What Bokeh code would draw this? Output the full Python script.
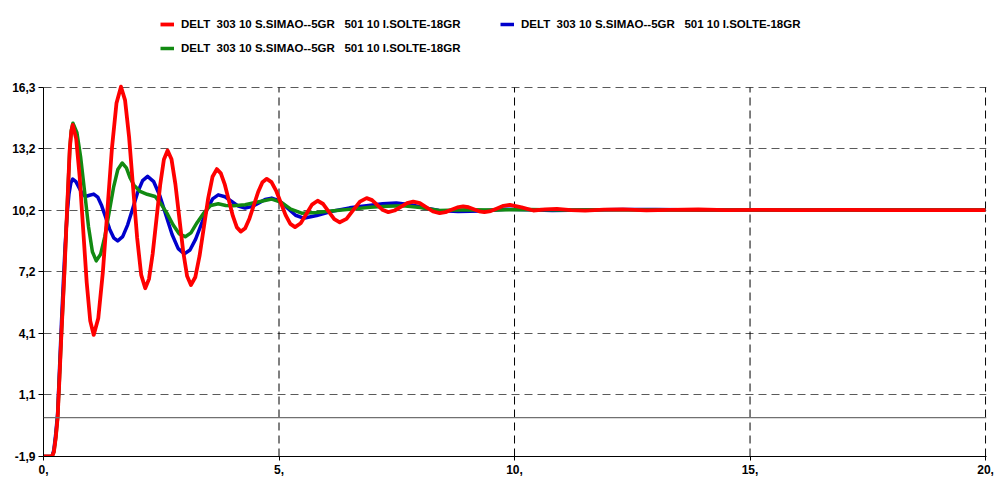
from bokeh.plotting import figure
from bokeh.models import ColumnDataSource, Range1d, FixedTicker, Span, Legend, LegendItem
from bokeh.embed import file_html
from bokeh.resources import INLINE

# ---------------- data ----------------
series_label = "DELT  303 10 S.SIMAO--5GR   501 10 I.SOLTE-18GR"

red_t = [0, 0.18, 0.22, 0.26, 0.30, 0.34, 0.38, 0.445, 0.50, 0.557,
         0.59, 0.62, 0.694, 0.769, 0.843, 0.917, 0.992, 1.066, 1.163, 1.259,
         1.356, 1.452, 1.549, 1.645, 1.731, 1.817, 1.902, 1.988, 2.074, 2.16,
         2.239, 2.318, 2.398, 2.477, 2.556, 2.635, 2.718, 2.80, 2.883, 2.965,
         3.048, 3.13, 3.222, 3.313, 3.405, 3.497, 3.588, 3.68, 3.765, 3.85,
         3.935, 4.02, 4.105, 4.19, 4.282, 4.373, 4.465, 4.557, 4.648, 4.74,
         4.84, 4.94, 5.04, 5.14, 5.24, 5.34, 5.46, 5.58, 5.70, 5.82,
         5.938, 6.055, 6.173, 6.29, 6.433, 6.575, 6.718, 6.86, 6.975, 7.09,
         7.205, 7.32, 7.453, 7.585, 7.718, 7.85, 7.99, 8.13, 8.27, 8.41,
         8.535, 8.66, 8.785, 8.91, 9.023, 9.135, 9.248, 9.36, 9.495, 9.63,
         9.765, 9.90, 10.15, 10.4, 10.65, 10.9, 11.2, 11.5, 11.9, 12.3,
         12.8, 13.3, 13.9, 14.5, 15.2, 16.0, 17.0, 18.0, 19.0, 20.0]
red_v = [-1.92, -1.92, -1.7, -1.0, 0.0, 2.0, 4.1, 7.2, 10.2, 13.2,
         14.1, 14.42, 13.73, 11.83, 9.245, 6.66, 4.76, 4.07, 4.89, 7.13,
         10.19, 13.24, 15.48, 16.3, 15.64, 13.82, 11.34, 8.85, 7.03, 6.37,
         6.82, 8.07, 9.765, 11.46, 12.71, 13.16, 12.72, 11.50, 9.845, 8.19,
         6.97, 6.53, 6.91, 7.96, 9.385, 10.81, 11.86, 12.24, 12.03, 11.47,
         10.70, 9.93, 9.37, 9.16, 9.33, 9.81, 10.46, 11.11, 11.59, 11.76,
         11.60, 11.17, 10.57, 9.97, 9.54, 9.38, 9.57, 10.03, 10.49, 10.68,
         10.52, 10.15, 9.78, 9.62, 9.79, 10.215, 10.64, 10.81, 10.71, 10.465,
         10.22, 10.12, 10.20, 10.38, 10.56, 10.64, 10.56, 10.355, 10.15, 10.07,
         10.12, 10.235, 10.35, 10.40, 10.36, 10.26, 10.16, 10.12, 10.17, 10.30,
         10.43, 10.48, 10.35, 10.20, 10.26, 10.28, 10.22, 10.19, 10.24, 10.26,
         10.21, 10.23, 10.25, 10.22, 10.23, 10.22, 10.23, 10.22, 10.22, 10.22]

blue_t = [0, 0.18, 0.22, 0.26, 0.30, 0.34, 0.38, 0.42, 0.46, 0.50,
          0.54, 0.58, 0.62, 0.688, 0.755, 0.823, 0.89, 0.978, 1.066, 1.151,
          1.236, 1.321, 1.405, 1.49, 1.575, 1.681, 1.787, 1.893, 1.998, 2.104,
          2.21, 2.34, 2.47, 2.60, 2.73, 2.86, 2.99, 3.11, 3.23, 3.35,
          3.47, 3.59, 3.71, 3.853, 3.995, 4.138, 4.28, 4.421, 4.563, 4.704,
          4.845, 5.014, 5.183, 5.351, 5.52, 5.8, 6.1, 6.5, 6.9, 7.2,
          7.49, 7.8, 8.1, 8.4, 8.8, 9.3, 9.8, 10.3, 10.8, 11.5,
          12.3, 13.0, 14.0, 15.0, 16.0, 18.0, 20.0]
blue_v = [-1.92, -1.92, -1.6, -0.8, 0.2, 2.4, 4.6, 6.6, 8.5, 10.0,
          11.0, 11.55, 11.75, 11.62, 11.32, 11.02, 10.89, 10.95, 11.01, 10.86,
          10.43, 9.855, 9.28, 8.855, 8.70, 8.91, 9.495, 10.29, 11.09, 11.67,
          11.88, 11.62, 10.93, 9.97, 9.015, 8.32, 8.06, 8.255, 8.79, 9.515,
          10.24, 10.775, 10.97, 10.875, 10.645, 10.415, 10.32, 10.39, 10.565, 10.74,
          10.81, 10.67, 10.315, 9.965, 9.82, 9.95, 10.15, 10.33, 10.45, 10.53,
          10.57, 10.48, 10.32, 10.20, 10.15, 10.18, 10.26, 10.24, 10.20, 10.22,
          10.25, 10.25, 10.22, 10.23, 10.22, 10.22, 10.22]

green_t = [0, 0.18, 0.22, 0.26, 0.30, 0.34, 0.38, 0.445, 0.50, 0.557,
           0.59, 0.625, 0.708, 0.79, 0.873, 0.955, 1.038, 1.12, 1.212, 1.303,
           1.395, 1.487, 1.578, 1.67, 1.76, 1.84, 1.92, 2.05, 2.2, 2.37,
           2.5, 2.62, 2.75, 2.88, 3.01, 3.13, 3.26, 3.40, 3.55, 3.71,
           3.87, 4.03, 4.28, 4.55, 4.845, 5.05, 5.25, 5.48, 5.8, 6.22,
           6.6, 6.93, 7.3, 7.63, 8.0, 8.4, 9.0, 9.6, 10.3, 11.0,
           12.0, 13.0, 14.0, 16.0, 20.0]
green_v = [-1.92, -1.92, -1.7, -1.0, 0.0, 2.0, 4.1, 7.2, 10.2, 13.2,
           14.15, 14.5, 14.05, 12.805, 11.11, 9.415, 8.17, 7.72, 8.04, 8.925,
           10.13, 11.335, 12.22, 12.54, 12.3, 11.8, 11.45, 11.14, 11.0, 10.89,
           10.5, 10.07, 9.5, 9.05, 8.91, 9.1, 9.6, 10.07, 10.45, 10.53,
           10.45, 10.43, 10.48, 10.62, 10.76, 10.6, 10.27, 10.07, 10.1, 10.2,
           10.28, 10.36, 10.41, 10.43, 10.35, 10.2, 10.24, 10.22, 10.25, 10.22,
           10.24, 10.22, 10.23, 10.22, 10.22]

x_ticks = [0, 5, 10, 15, 20]
x_tick_labels = ["0,", "5,", "10,", "15,", "20,"]
y_ticks = [-1.92, 1.11, 4.14, 7.17, 10.2, 13.23, 16.26]
y_tick_labels = ["-1,9", "1,1", "4,1", "7,2", "10,2", "13,2", "16,3"]

# ---------------- figure ----------------
FONT = "Liberation Sans"
# frame spans the whole height so the legend (inside the frame) is not clipped;
# the y range above 16.26 is empty space for the legend.
p = figure(width=994, height=478, output_backend="svg", toolbar_location=None,
           x_range=Range1d(0, 20.02), y_range=Range1d(-1.92, 20.546),
           min_border_left=43, min_border_right=8, min_border_top=0, min_border_bottom=22)
p.outline_line_color = None
p.background_fill_color = "white"
p.border_fill_color = "white"

p.xaxis.ticker = FixedTicker(ticks=x_ticks)
p.xaxis.major_label_overrides = {t: l for t, l in zip(x_ticks, x_tick_labels)}
p.yaxis.ticker = FixedTicker(ticks=y_ticks)
p.yaxis.major_label_overrides = {t: l for t, l in zip(y_ticks, y_tick_labels)}
p.yaxis.bounds = (y_ticks[0], y_ticks[-1])

for ax in (p.xaxis[0], p.yaxis[0]):
    ax.axis_line_color = "black"
    ax.axis_line_width = 1
    ax.major_tick_line_color = "black"
    ax.major_tick_in = 0
    ax.minor_tick_line_color = None
    ax.major_label_text_font = FONT
    ax.major_label_text_font_style = "bold"
    ax.major_label_text_font_size = "12px"
    ax.major_label_text_color = "black"
p.xaxis.major_tick_out = 4
p.xaxis.major_label_standoff = 4
p.yaxis.major_tick_out = 5
p.yaxis.major_label_standoff = 3

# vertical grid lines only between the y limits
p.xgrid.grid_line_color = None
n = len(x_ticks)
p.segment(x0=x_ticks, y0=[y_ticks[0]] * n, x1=x_ticks, y1=[y_ticks[-1]] * n,
          line_color="black", line_width=1, line_dash="8 5")
p.ygrid.grid_line_color = "#5a5a5a"
p.ygrid.grid_line_dash = "8 5"
p.ygrid.grid_line_width = 1

p.add_layout(Span(location=0, dimension="width", line_color="#707070", line_width=1.3))

src_b = ColumnDataSource(dict(t=blue_t, v=blue_v))
src_g = ColumnDataSource(dict(t=green_t, v=green_v))
src_r = ColumnDataSource(dict(t=red_t, v=red_v))

rb = p.line("t", "v", source=src_b, line_color="#0000CC", line_width=3.5, line_join="round")
rg = p.line("t", "v", source=src_g, line_color="#128A12", line_width=3.5, line_join="round")
rr = p.line("t", "v", source=src_r, line_color="#FF0000", line_width=3.8, line_join="round")


def add_legend(renderer, vx, vy):
    leg = Legend(items=[LegendItem(label=series_label, renderers=[renderer])],
                 location=(vx, vy), orientation="horizontal",
                 padding=0, margin=0, spacing=0,
                 border_line_color=None, background_fill_alpha=0,
                 glyph_width=14, glyph_height=12, label_height=12, label_standoff=7,
                 label_text_font=FONT, label_text_font_style="bold",
                 label_text_font_size="11.5px", label_text_color="black")
    p.add_layout(leg)


add_legend(rr, 117, 426)
add_legend(rb, 457, 426)
add_legend(rg, 117, 402)

open("out.html", "w").write(file_html(p, INLINE))
